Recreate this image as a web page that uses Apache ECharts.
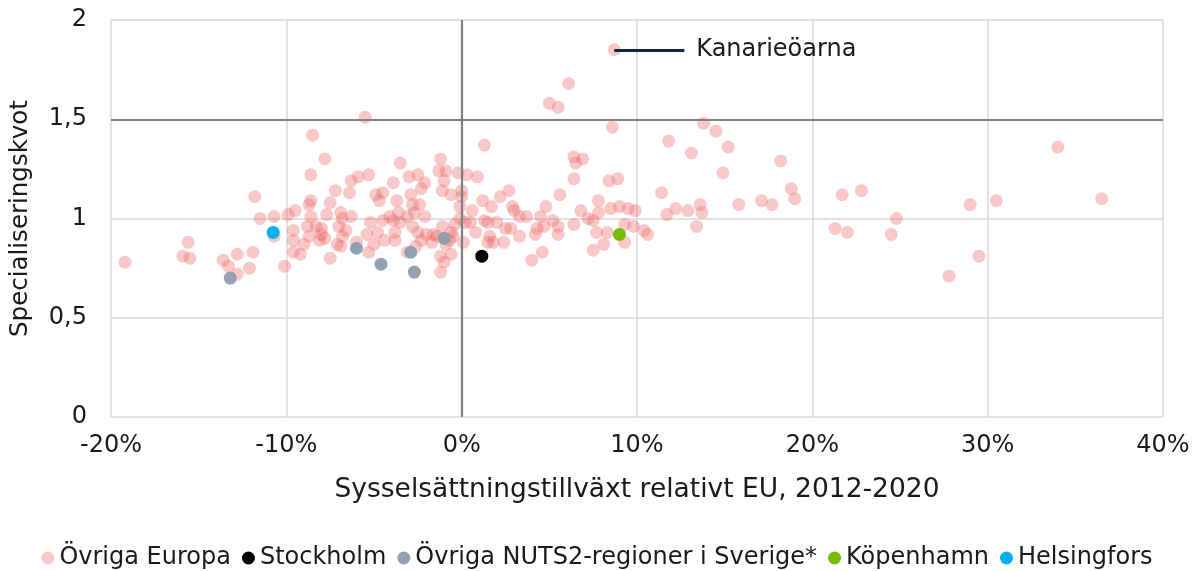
<!DOCTYPE html>
<html>
<head>
<meta charset="utf-8">
<script src="https://cdn.jsdelivr.net/npm/echarts@6/dist/echarts.min.js"></script>
<style>
  html, body { margin: 0; padding: 0; background: #fff; }
  #chart { width: 1194px; height: 571px; }
</style>
</head>
<body>
<div id="chart"></div>
<script>
// x = sysselsättningstillväxt relativt EU (%), y = specialiseringskvot
const kanarie = [8.7, 1.85];
const kanarieNamn = 'Kanarieöarna';

const ovrigaEuropa = [
  [-19.2,0.78],[-15.6,0.88],[-15.9,0.81],[-15.5,0.80],[-13.6,0.79],[-13.3,0.76],[-12.8,0.72],[-12.8,0.82],[-11.9,0.83],[-12.1,0.75],[-11.8,1.11],[-11.5,1.00],
  [-10.7,1.01],[-10.7,0.91],[-10.1,0.76],[-9.9,1.02],[-9.5,1.04],[-9.6,0.94],[-9.6,0.89],[-9.6,0.83],[-9.2,0.82],[-9.0,0.87],
  [-8.5,1.42],[-7.8,1.30],[-8.6,1.22],[-8.7,1.07],[-8.6,1.09],[-7.5,1.08],[-7.2,1.14],[-8.6,1.01],[-7.7,1.02],[-8.8,0.96],[-8.3,0.96],[-8.0,0.95],[-8.0,0.92],[-7.8,0.90],[-8.1,0.89],[-8.7,0.91],[-7.1,0.87],[-7.5,0.80],[-6.9,1.03],[-6.8,0.91],[-7.0,0.96],
  [-6.4,1.13],[-6.3,1.19],[-5.9,1.21],[-5.3,1.22],[-4.9,1.12],[-4.5,1.13],[-4.7,1.09],[-6.8,1.00],[-6.3,1.01],[-6.6,0.94],[-6.9,0.86],[-6.0,0.88],[-5.4,0.92],[-5.2,0.98],[-5.3,0.83],[-5.0,0.87],[-4.8,0.93],[-4.5,0.99],[-4.4,0.89],[-4.1,1.01],[-3.9,0.99],[-3.8,0.93],[-3.8,0.89],[-3.6,1.03],[-3.5,0.98],
  [-3.9,1.18],[-3.5,1.28],[-3.0,1.21],[-3.7,1.09],[-2.9,1.12],[-2.8,1.07],[-3.1,1.01],[-2.7,1.03],[-3.1,0.83],[-2.8,0.96],[-2.5,0.93],[-2.5,1.22],[-2.6,0.86],[-2.4,1.07],
  [-2.1,1.18],[-2.3,1.15],[-1.2,1.30],[-0.9,1.24],[-1.3,1.24],[-1.0,1.19],[-0.2,1.23],[-1.1,1.14],[-0.6,1.12],[0.0,1.14],[0.0,1.11],[-0.1,1.06],[-2.1,1.01],[-2.0,0.92],[-1.6,0.92],[-1.4,0.91],[-2.3,0.89],[-1.1,0.96],[-0.6,0.93],[-0.7,0.89],[-0.5,0.91],[-0.4,0.97],[-0.1,1.00],[-1.2,0.81],[-1.0,0.78],[-0.6,0.82],[-1.2,0.73],[-1.7,0.88],[-0.9,0.87],
  [0.3,1.22],[0.9,1.21],[1.3,1.37],[1.2,1.09],[0.6,1.04],[0.2,0.98],[0.5,0.98],[1.3,0.99],[0.1,0.88],[1.5,0.88],[0.8,0.93],[1.7,1.06],[2.2,1.11],[1.5,0.98],[2.0,0.98],[1.6,0.91],[1.8,0.88],[2.4,0.88],
  [2.7,1.14],[2.9,1.06],[3.0,1.04],[3.3,1.01],[3.7,1.01],[4.5,1.01],[4.8,1.06],[5.6,1.12],[5.2,0.99],[5.5,0.96],[5.5,0.92],[4.7,0.96],[4.3,0.95],[4.2,0.92],[3.3,0.91],[2.8,0.95],[2.5,0.95],[4.6,0.83],[4.0,0.79],
  [6.4,1.31],[6.5,1.28],[6.9,1.30],[6.4,1.20],[8.4,1.19],[8.9,1.20],[8.6,1.46],[7.8,1.09],[6.8,1.04],[7.8,1.03],[8.5,1.05],[9.0,1.06],[9.5,1.05],[9.9,1.04],[7.2,1.00],[7.5,0.99],[6.4,0.97],[7.7,0.93],[8.3,0.93],[9.3,0.97],[9.8,0.96],[8.1,0.87],[7.5,0.84],[9.3,0.88],[10.4,0.94],[10.6,0.92],
  kanarie,
  [11.8,1.39],[13.1,1.33],[13.8,1.48],[14.5,1.44],[15.2,1.36],[14.9,1.23],[18.2,1.29],[18.8,1.15],[19.0,1.10],[11.4,1.13],[12.2,1.05],[11.7,1.02],[12.9,1.04],[13.6,1.07],[13.7,1.03],[15.8,1.07],[17.1,1.09],[17.7,1.07],[13.4,0.96],
  [21.7,1.12],[22.8,1.14],[24.8,1.00],[24.5,0.92],[21.3,0.95],[22.0,0.93],[29.0,1.07],[29.5,0.81],[27.8,0.71],[30.5,1.09],[34.0,1.36],[36.5,1.10],
  [-5.5,1.51],[5.0,1.58],[5.5,1.56],[6.1,1.68]
];
const stockholm = [[1.15,0.81]];
const ovrigaSverige = [[-13.2,0.70],[-6.0,0.85],[-4.6,0.77],[-2.9,0.83],[-2.7,0.73],[-1.0,0.90]];
const kopenhamn = [[9.0,0.92]];
const helsingfors = [[-10.75,0.93]];

const xTicks = {min: -20, max: 40, step: 10};
const yTicks = {min: 0, max: 2, step: 0.5};

const font = 'DejaVu Sans';
const chart = echarts.init(document.getElementById('chart'));

function dots(name, data, color, opacity, z) {
  return {
    name: name,
    type: 'scatter',
    data: data,
    symbolSize: 13,
    z: z,
    itemStyle: {color: color, opacity: opacity},
    emphasis: {disabled: true}
  };
}

let pink = dots('Övriga Europa', ovrigaEuropa, 'rgb(235,95,95)', 0.34, 3);
// mörka hjälplinjer vid 0 % och 1,5
pink.markLine = {
  silent: true,
  symbol: 'none',
  label: {show: false},
  lineStyle: {color: '#808080', width: 2.2, type: 'solid'},
  data: [{xAxis: 0}, {yAxis: 1.5}]
};

let option = {
  animation: false,
  textStyle: {fontFamily: font},
  grid: {left: 108, right: 31, top: 20, bottom: 154},
  xAxis: {
    type: 'value',
    min: xTicks.min,
    max: xTicks.max,
    interval: xTicks.step,
    name: 'Sysselsättningstillväxt relativt EU, 2012-2020',
    nameLocation: 'middle',
    nameGap: 60,
    nameTextStyle: {fontSize: 26.5, color: '#1a1a1a', fontFamily: font},
    axisLine: {show: false},
    axisTick: {show: false},
    axisLabel: {fontSize: 24, color: '#1a1a1a', margin: 17, formatter: '{value}%'},
    splitLine: {lineStyle: {color: '#d9d9d9', width: 1.5}}
  },
  yAxis: {
    type: 'value',
    min: yTicks.min,
    max: yTicks.max,
    interval: yTicks.step,
    name: 'Specialiseringskvot',
    nameLocation: 'middle',
    nameGap: 78,
    nameRotate: 90,
    nameTextStyle: {fontSize: 24.5, color: '#1a1a1a', fontFamily: font},
    axisLine: {show: false},
    axisTick: {show: false},
    axisLabel: {
      fontSize: 24, color: '#1a1a1a', margin: 24,
      formatter: v => String(v).replace('.', ',')
    },
    splitLine: {lineStyle: {color: '#d9d9d9', width: 1.5}}
  },
  legend: {
    top: 541,
    left: 'center',
    icon: 'circle',
    itemWidth: 13,
    itemHeight: 13,
    itemGap: 11,
    textStyle: {fontSize: 24, color: '#1a1a1a', fontFamily: font},
    data: ['Övriga Europa', 'Stockholm', 'Övriga NUTS2-regioner i Sverige*', 'Köpenhamn', 'Helsingfors']
  },
  series: [
    pink,
    dots('Stockholm', stockholm, '#000000', 1, 5),
    dots('Övriga NUTS2-regioner i Sverige*', ovrigaSverige, '#8d9dad', 0.95, 4),
    dots('Köpenhamn', kopenhamn, '#76bc08', 1, 5),
    dots('Helsingfors', helsingfors, '#00b0f0', 1, 5),
    {
      name: 'etikett',
      type: 'scatter',
      data: [],
      z: 6,
      markLine: {
        silent: true,
        symbol: 'none',
        lineStyle: {color: '#0e2841', width: 3, type: 'solid'},
        label: {
          show: true, position: 'end', distance: 12, formatter: kanarieNamn,
          fontSize: 24, color: '#1a1a1a', fontFamily: font
        },
        data: [[{coord: [kanarie[0], kanarie[1]]}, {coord: [kanarie[0] + 4, kanarie[1]]}]]
      }
    }
  ]
};
chart.setOption(option);
</script>
</body>
</html>
